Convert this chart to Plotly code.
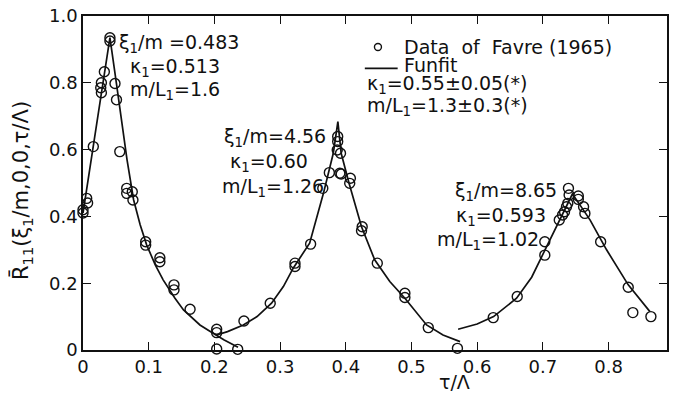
import plotly.graph_objects as go

# ---------------- data ----------------
favre_x = [0.0, 0.0, 0.0056, 0.007, 0.0157, 0.028, 0.027, 0.028, 0.0325, 0.041, 0.041,
           0.0487, 0.051, 0.056, 0.0665, 0.0665, 0.075, 0.076, 0.0954, 0.0954, 0.117, 0.117,
           0.1385, 0.1385, 0.163, 0.2035, 0.2035, 0.2035, 0.2355,
           0.245, 0.285, 0.3227, 0.3227, 0.3465, 0.365, 0.375, 0.3877, 0.3877, 0.387, 0.392,
           0.391, 0.393, 0.407, 0.406, 0.425, 0.424, 0.448, 0.49, 0.49, 0.5256, 0.570, 0.570,
           0.6245, 0.661, 0.703, 0.703, 0.725, 0.730, 0.733, 0.736, 0.738, 0.739, 0.740,
           0.754, 0.754, 0.762, 0.764, 0.788, 0.830, 0.837, 0.8645]
favre_y = [0.42, 0.41, 0.454, 0.44, 0.609, 0.80, 0.785, 0.77, 0.833, 0.935, 0.925,
           0.798, 0.749, 0.594, 0.484, 0.469, 0.474, 0.449, 0.324, 0.314, 0.276, 0.264,
           0.195, 0.18, 0.122, 0.062, 0.052, 0.003, 0.002,
           0.087, 0.14, 0.26, 0.25, 0.317, 0.484, 0.531, 0.639, 0.624, 0.599, 0.589,
           0.529, 0.527, 0.514, 0.499, 0.369, 0.357, 0.26, 0.17, 0.157, 0.067, 0.005, -0.008,
           0.097, 0.16, 0.324, 0.284, 0.389, 0.404, 0.414, 0.429, 0.439, 0.484, 0.464,
           0.461, 0.451, 0.429, 0.409, 0.324, 0.188, 0.112, 0.1]

fit1_x = [0.0, 0.01, 0.02, 0.03, 0.041, 0.05, 0.06, 0.067, 0.077, 0.087, 0.097, 0.11,
          0.122, 0.14, 0.153, 0.178, 0.198, 0.215, 0.236]
fit1_y = [0.41, 0.54, 0.665, 0.79, 0.935, 0.81, 0.665, 0.57, 0.45, 0.375, 0.314, 0.255,
          0.21, 0.155, 0.12, 0.075, 0.05, 0.03, 0.008]

fit2_x = [0.2035, 0.22, 0.244, 0.265, 0.287, 0.305, 0.32, 0.345, 0.366, 0.381, 0.388,
          0.393, 0.405, 0.424, 0.444, 0.467, 0.49, 0.523, 0.548, 0.574]
fit2_y = [0.045, 0.055, 0.075, 0.10, 0.14, 0.19, 0.245, 0.32, 0.469, 0.589, 0.684,
          0.589, 0.499, 0.369, 0.27, 0.205, 0.155, 0.075, 0.045, 0.025]

fit3_x = [0.571, 0.6, 0.625, 0.66, 0.683, 0.703, 0.726, 0.745, 0.758, 0.772, 0.797, 0.83, 0.863]
fit3_y = [0.062, 0.078, 0.10, 0.155, 0.218, 0.30, 0.394, 0.467, 0.43, 0.389, 0.30, 0.195, 0.115]

x_ticks = [0, 0.1, 0.2, 0.3, 0.4, 0.5, 0.6, 0.7, 0.8]
x_tick_labels = ["0", "0.1", "0.2", "0.3", "0.4", "0.5", "0.6", "0.7", "0.8"]
y_ticks = [0, 0.2, 0.4, 0.6, 0.8, 1.0]
y_tick_labels = ["0", "0.2", "0.4", "0.6", "0.8", "1.0"]

legend_data_label = "Data\u00a0 of\u00a0 Favre (1965)"
legend_fit_label = "Funfit"

FONT = "DejaVu Sans"
BLACK = "#111111"

fig = go.Figure()
for fx, fy in [(fit1_x, fit1_y), (fit2_x, fit2_y), (fit3_x, fit3_y)]:
    fig.add_trace(go.Scatter(x=fx, y=fy, mode="lines", name=legend_fit_label,
                             line=dict(color=BLACK, width=1.7), showlegend=False,
                             cliponaxis=False))
fig.add_trace(go.Scatter(x=favre_x, y=favre_y, mode="markers", name=legend_data_label,
                         marker=dict(symbol="circle-open", size=10, color=BLACK,
                                     line=dict(width=1.4, color=BLACK)),
                         showlegend=False, cliponaxis=False))

axis_common = dict(showline=True, linecolor=BLACK, linewidth=1.6, mirror="ticks",
                   ticks="inside", ticklen=8, tickwidth=1.4, tickcolor=BLACK,
                   showgrid=False, zeroline=False, ticklabeloverflow="allow",
                   automargin=False,
                   tickfont=dict(family=FONT, size=18, color=BLACK))

fig.update_xaxes(range=[0, 0.889], tickvals=x_ticks, ticktext=x_tick_labels, **axis_common)
fig.update_yaxes(range=[0, 1.0], tickvals=y_ticks, ticktext=y_tick_labels, **axis_common)

ann_font = dict(family=FONT, size=19, color=BLACK)
texts = [
    ("ξ<sub>1</sub>/m =0.483", 0.0518, 0.919),
    ("κ<sub>1</sub>=0.513", 0.0685, 0.847),
    ("m/L<sub>1</sub>=1.6", 0.0685, 0.778),
    ("ξ<sub>1</sub>/m=4.56", 0.2116, 0.635),
    ("κ<sub>1</sub>=0.60", 0.2207, 0.560),
    ("m/L<sub>1</sub>=1.26", 0.2085, 0.488),
    ("ξ<sub>1</sub>/m=8.65", 0.563, 0.476),
    ("κ<sub>1</sub>=0.593", 0.565, 0.401),
    ("m/L<sub>1</sub>=1.02", 0.536, 0.329),
    (legend_data_label, 0.4855, 0.907),
    (legend_fit_label, 0.4855, 0.853),
    ("κ<sub>1</sub>=0.55±0.05(*)", 0.429, 0.796),
    ("m/L<sub>1</sub>=1.3±0.3(*)", 0.429, 0.728),
]
annotations = [dict(text=t, x=x, y=y, xref="x", yref="y", xanchor="left", yanchor="middle",
                    showarrow=False, font=ann_font) for t, x, y in texts]
annotations.append(dict(text="τ/Λ", x=0.566, y=-0.096, xref="x", yref="paper",
                        xanchor="center", yanchor="middle", showarrow=False, font=ann_font))
annotations.append(dict(text="R\u0304<sub>11</sub>(ξ<sub>1</sub>/m,0,0,τ/Λ)", x=-0.105, y=0.478,
                        xref="paper", yref="paper", xanchor="center", yanchor="middle",
                        textangle=-90, showarrow=False,
                        font=dict(family=FONT, size=21, color=BLACK)))

shapes = [
    # legend symbol: open circle
    dict(type="circle", xref="x", yref="y", xsizemode="pixel", ysizemode="pixel",
         xanchor=0.449, yanchor=0.907, x0=-3.5, x1=3.5, y0=-3.5, y1=3.5,
         line=dict(color=BLACK, width=1.4)),
    # legend symbol: line
    dict(type="line", xref="x", yref="y", x0=0.429, x1=0.479, y0=0.843, y1=0.843,
         line=dict(color=BLACK, width=1.7)),
]

fig.update_layout(
    width=669, height=390,
    margin=dict(l=75, r=10, t=8, b=48),
    paper_bgcolor="white", plot_bgcolor="white",
    showlegend=False,
    annotations=annotations,
    shapes=shapes,
)

fig.write_html("out.html")
